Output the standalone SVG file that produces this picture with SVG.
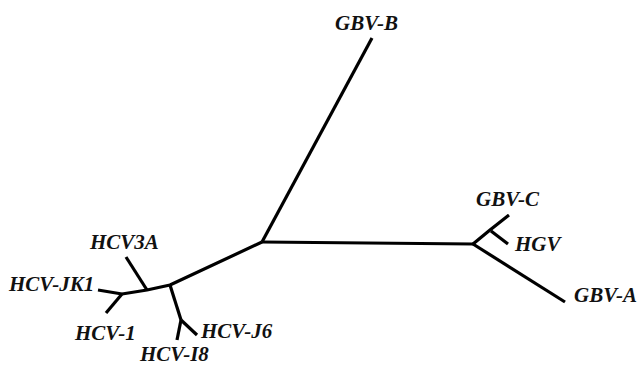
<svg xmlns="http://www.w3.org/2000/svg" width="638" height="367" viewBox="0 0 638 367">
<style>
.b{fill:none;stroke:#000;stroke-width:3.2;stroke-linecap:butt;stroke-linejoin:round}
.t{font-family:"Liberation Serif","Times New Roman",serif;font-style:italic;font-weight:bold;font-size:21px;fill:#111}
</style>
<rect width="638" height="367" fill="#fff"/>
<g id="connectors">
<path class="b" d="M262,242 L372,38"/>
<path class="b" d="M262,242 L473,244"/>
<path class="b" d="M473,244 L490,230 L509,215"/>
<path class="b" d="M491,231 L508,244"/>
<path class="b" d="M473,244 L565,302"/>
<path class="b" d="M262,242 L170,285 L147,290 L122,294"/>
<path class="b" d="M147,290 L126,257"/>
<path class="b" d="M122,294 L98,290"/>
<path class="b" d="M122,294 L106,313"/>
<path class="b" d="M170,285 L181,320"/>
<path class="b" d="M181,320 L197,335"/>
<path class="b" d="M181,320 L177,340"/>
</g>
<g id="GBV-B"><text class="t" x="335" y="30">GBV-B</text></g>
<g id="GBV-C"><text class="t" x="476" y="206">GBV-C</text></g>
<g id="HGV"><text class="t" x="515" y="251">HGV</text></g>
<g id="GBV-A"><text class="t" x="574" y="302">GBV-A</text></g>
<g id="HCV3A"><text class="t" x="90" y="249">HCV3A</text></g>
<g id="HCV-JK1"><text class="t" x="9" y="291">HCV-JK1</text></g>
<g id="HCV-1"><text class="t" x="75" y="340">HCV-1</text></g>
<g id="HCV-J6"><text class="t" x="201" y="338">HCV-J6</text></g>
<g id="HCV-I8"><text class="t" x="140" y="361">HCV-I8</text></g>
</svg>
